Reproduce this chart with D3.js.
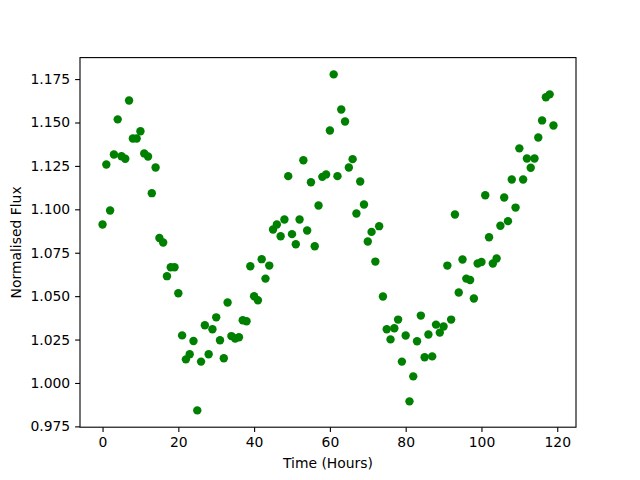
<!DOCTYPE html>
<html>
<head>
<meta charset="utf-8">
<script src="https://cdn.jsdelivr.net/npm/d3@7"></script>
<style>
  body { margin: 0; background: #fff; }
  svg text { font-family: "DejaVu Sans", sans-serif; fill: #000; }
</style>
</head>
<body>
<div id="chart"></div>
<script>
// time in hours, one sample per hour
const hours = d3.range(0, 120);
// normalised flux
const flux = [
  1.0913, 1.1258, 1.0993, 1.1316, 1.1518, 1.1306, 1.1291, 1.1627, 1.1408, 1.1408,
  1.1450, 1.1322, 1.1304, 1.1093, 1.1241, 1.0835, 1.0809, 1.0615, 1.0666, 1.0666,
  1.0517, 1.0274, 1.0136, 1.0165, 1.0242, 0.9842, 1.0123, 1.0332, 1.0165, 1.0309,
  1.0378, 1.0246, 1.0142, 1.0463, 1.0270, 1.0256, 1.0263, 1.0361, 1.0355, 1.0672,
  1.0499, 1.0476, 1.0713, 1.0601, 1.0676, 1.0884, 1.0913, 1.0845, 1.0941, 1.1191,
  1.0857, 1.0799, 1.0941, 1.1283, 1.0878, 1.1156, 1.0787, 1.1022, 1.1187, 1.1201,
  1.1454, 1.1777, 1.1191, 1.1575, 1.1506, 1.1241, 1.1289, 1.0976, 1.1160, 1.1028,
  1.0815, 1.0870, 1.0699, 1.0903, 1.0498, 1.0309, 1.0251, 1.0315, 1.0365, 1.0123,
  1.0273, 0.9894, 1.0038, 1.0240, 1.0388, 1.0148, 1.0279, 1.0153, 1.0336, 1.0290,
  1.0325, 1.0676, 1.0365, 1.0970, 1.0521, 1.0711, 1.0601, 1.0593, 1.0486, 1.0688,
  1.0697, 1.1081, 1.0839, 1.0688, 1.0717, 1.0905, 1.1068, 1.0932, 1.1172, 1.1010,
  1.1351, 1.1172, 1.1293, 1.1239, 1.1293, 1.1414, 1.1512, 1.1645, 1.1662, 1.1483
];
const xTicks = [0, 20, 40, 60, 80, 100, 120];
const yTicks = [0.975, 1.000, 1.025, 1.050, 1.075, 1.100, 1.125, 1.150, 1.175];

const W = 640, H = 480;
const margin = { top: 57.6, right: 64, bottom: 52.8, left: 80 };
const width = W - margin.left - margin.right;
const height = H - margin.top - margin.bottom;

const svg = d3.select("#chart").append("svg")
  .attr("width", W)
  .attr("height", H);

const g = svg.append("g")
  .attr("transform", `translate(${margin.left},${margin.top})`);

// matplotlib style 5% padding around the data
const xExt = d3.extent(hours), yExt = d3.extent(flux);
const xPad = (xExt[1] - xExt[0]) * 0.05, yPad = (yExt[1] - yExt[0]) * 0.05;

const x = d3.scaleLinear().domain([xExt[0] - xPad, xExt[1] + xPad]).range([0, width]);
const y = d3.scaleLinear().domain([yExt[0] - yPad, yExt[1] + yPad]).range([height, 0]);

const xAxis = g.append("g")
  .attr("transform", `translate(0,${height})`)
  .call(d3.axisBottom(x).tickValues(xTicks).tickSize(4.9).tickPadding(4.9).tickFormat(d3.format("d")));

const yAxis = g.append("g")
  .call(d3.axisLeft(y).tickValues(yTicks).tickSize(4.9).tickPadding(4.9).tickFormat(d3.format(".3f")));

[xAxis, yAxis].forEach(a => {
  a.select(".domain").remove();
  a.selectAll("line").attr("stroke", "#000").attr("stroke-width", 1.1);
  a.selectAll("text").attr("font-size", 13.9).attr("font-family", "DejaVu Sans");
});

// points
g.append("g").selectAll("circle")
  .data(hours)
  .enter()
  .append("circle")
  .attr("cx", (d, i) => x(d))
  .attr("cy", (d, i) => y(flux[i]))
  .attr("r", 4.2)
  .attr("fill", "green");

// spines
g.append("rect")
  .attr("width", width)
  .attr("height", height)
  .attr("fill", "none")
  .attr("stroke", "#000")
  .attr("stroke-width", 1.1);

// axis labels
svg.append("text")
  .attr("x", margin.left + width / 2)
  .attr("y", 468)
  .attr("text-anchor", "middle")
  .attr("font-size", 13.9)
  .text("Time (Hours)");

svg.append("text")
  .attr("transform", `translate(21,${margin.top + height / 2}) rotate(-90)`)
  .attr("text-anchor", "middle")
  .attr("font-size", 13.9)
  .text("Normalised Flux");
</script>
</body>
</html>
